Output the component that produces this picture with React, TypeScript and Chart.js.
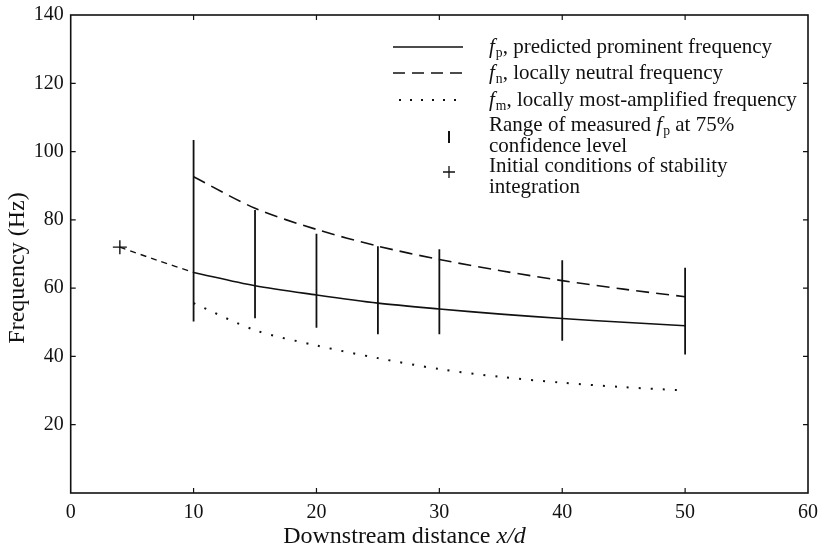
import React, { useEffect, useRef } from "react";
import { Chart, registerables } from "chart.js";
Chart.register(...registerables);

const FONT = '"Liberation Serif", "Times New Roman", serif';

const xMin = 0;
const xMax = 60;
const yMin = 0;
const yMax = 140;
const xTickValues = [0, 10, 20, 30, 40, 50, 60];
const yTickValues = [20, 40, 60, 80, 100, 120, 140];

// f_p predicted prominent frequency (solid)
const fpX = [10, 15, 20, 25, 30, 35, 40, 45, 50];
const fpY = [64.6, 60.7, 58.0, 55.6, 53.9, 52.4, 51.1, 50.0, 49.0];
// f_p before first measurement station (short dashes from initial condition)
const fpInitX = [4, 7, 10];
const fpInitY = [72, 68.2, 64.6];
// f_n locally neutral frequency (long dashes)
const fnX = [10, 15, 20, 25, 30, 35, 40, 45, 50];
const fnY = [92.6, 83.4, 77.2, 72.3, 68.4, 65.1, 62.2, 59.7, 57.5];
// f_m locally most-amplified frequency (dotted)
const fmX = [10, 15, 20, 25, 30, 35, 40, 45, 49.5];
const fmY = [55.6, 47.7, 43.2, 39.5, 36.3, 34.0, 32.3, 31.0, 30.1];
// range of measured f_p at 75% confidence level
const rangeX = [10, 15, 20, 25, 30, 40, 50];
const rangeLow = [50.2, 51.2, 48.4, 46.5, 46.5, 44.6, 40.6];
const rangeHigh = [103.4, 82.9, 75.9, 72.3, 71.4, 68.2, 66.0];
// initial conditions of stability integration
const initX = [4];
const initY = [72];

const yTitle = "Frequency (Hz)";

const legendRows = [
  { sym: "solid", parts: [{ t: "f", i: true }, { t: "p", sub: true }, { t: ", predicted prominent frequency" }] },
  { sym: "dash", parts: [{ t: "f", i: true }, { t: "n", sub: true }, { t: ", locally neutral frequency" }] },
  { sym: "dot", parts: [{ t: "f", i: true }, { t: "m", sub: true }, { t: ", locally most-amplified frequency" }] },
  {
    sym: "bar",
    parts: [{ t: "Range of measured " }, { t: "f", i: true }, { t: "p", sub: true }, { t: " at 75%" }],
    parts2: [{ t: "confidence level" }],
  },
  {
    sym: "plus",
    parts: [{ t: "Initial conditions of stability" }],
    parts2: [{ t: "integration" }],
  },
];

const toPts = (xs: number[], ys: number[]) => xs.map((x, i) => ({ x, y: ys[i] }));

function drawRich(ctx: CanvasRenderingContext2D, parts: any[], x: number, y: number, size: number) {
  let cx = x;
  for (const p of parts) {
    const fs = p.sub ? size * 0.65 : size;
    ctx.font = `${p.i ? "italic " : ""}${fs}px ${FONT}`;
    ctx.fillText(p.t, cx, p.sub ? y + size * 0.3 : y);
    cx += ctx.measureText(p.t).width + (p.i ? 1 : 0);
  }
  return cx - x;
}

function richWidth(ctx: CanvasRenderingContext2D, parts: any[], size: number) {
  let w = 0;
  for (const p of parts) {
    const fs = p.sub ? size * 0.65 : size;
    ctx.font = `${p.i ? "italic " : ""}${fs}px ${FONT}`;
    w += ctx.measureText(p.t).width + (p.i ? 1 : 0);
  }
  return w;
}

const framePlugin = {
  id: "frameAndLegend",
  afterDatasetsDraw(chart: any) {
    const { ctx, chartArea: a, scales } = chart;
    const xs = scales.x;
    const ys = scales.y;
    ctx.save();
    ctx.strokeStyle = "#111";
    ctx.fillStyle = "#111";
    ctx.lineWidth = 1.6;
    ctx.setLineDash([]);
    ctx.strokeRect(a.left, a.top, a.right - a.left, a.bottom - a.top);
    const tl = 5;
    ctx.lineWidth = 1.2;
    for (const v of xTickValues) {
      const px = xs.getPixelForValue(v);
      if (px <= a.left + 1 || px >= a.right - 1) continue;
      ctx.beginPath();
      ctx.moveTo(px, a.bottom);
      ctx.lineTo(px, a.bottom - tl);
      ctx.moveTo(px, a.top);
      ctx.lineTo(px, a.top + tl);
      ctx.stroke();
    }
    for (const v of yTickValues) {
      const py = ys.getPixelForValue(v);
      if (py <= a.top + 1 || py >= a.bottom - 1) continue;
      ctx.beginPath();
      ctx.moveTo(a.left, py);
      ctx.lineTo(a.left + tl, py);
      ctx.moveTo(a.right, py);
      ctx.lineTo(a.right - tl, py);
      ctx.stroke();
    }

    // legend
    const size = 21;
    const sx0 = 393;
    const sx1 = 463;
    const tx = 489;
    const rowY = [47, 73, 100, 125, 166];
    const row2Y = [0, 0, 0, 146, 187];
    ctx.textBaseline = "middle";
    ctx.textAlign = "left";
    legendRows.forEach((r, i) => {
      const y = rowY[i];
      ctx.lineWidth = 1.5;
      if (r.sym === "solid" || r.sym === "dash" || r.sym === "dot") {
        if (r.sym === "dash") ctx.setLineDash([12, 7]);
        else if (r.sym === "dot") ctx.setLineDash([2, 9]);
        else ctx.setLineDash([]);
        if (r.sym === "dot") ctx.lineWidth = 2;
        ctx.beginPath();
        ctx.moveTo(r.sym === "dot" ? sx0 + 6 : sx0, y);
        ctx.lineTo(sx1, y);
        ctx.stroke();
        ctx.setLineDash([]);
      } else if (r.sym === "bar") {
        ctx.lineWidth = 2;
        ctx.beginPath();
        ctx.moveTo(449, 131);
        ctx.lineTo(449, 143);
        ctx.stroke();
      } else if (r.sym === "plus") {
        ctx.lineWidth = 1.3;
        ctx.beginPath();
        ctx.moveTo(443, 172);
        ctx.lineTo(455, 172);
        ctx.moveTo(449, 166);
        ctx.lineTo(449, 178);
        ctx.stroke();
      }
      drawRich(ctx, r.parts, tx, y, size);
      if ((r as any).parts2) drawRich(ctx, (r as any).parts2, tx, row2Y[i], size);
    });

    // axis titles
    const tsize = 24;
    const title = [{ t: "Downstream distance " }, { t: "x/d", i: true }];
    const w = richWidth(ctx, title, tsize);
    drawRich(ctx, title, 405 - w / 2, 537, tsize);

    ctx.save();
    ctx.translate(18, 268);
    ctx.rotate(-Math.PI / 2);
    ctx.textAlign = "center";
    ctx.textBaseline = "middle";
    ctx.font = `${tsize}px ${FONT}`;
    ctx.fillText(yTitle, 0, 0);
    ctx.restore();

    ctx.restore();
  },
};

export default function App() {
  const ref = useRef<HTMLCanvasElement | null>(null);
  useEffect(() => {
    if (!ref.current) return;
    const rangeData: any[] = [];
    rangeX.forEach((x, i) => {
      rangeData.push({ x, y: rangeLow[i] });
      rangeData.push({ x, y: rangeHigh[i] });
      rangeData.push({ x, y: null });
    });
    const black = "#111";
    const chart = new Chart(ref.current, {
      type: "line",
      data: {
        datasets: [
          { label: "fp", data: toPts(fpX, fpY), borderColor: black, borderWidth: 1.6, pointRadius: 0, tension: 0.3 },
          { label: "fp init", data: toPts(fpInitX, fpInitY), borderColor: black, borderWidth: 1.4, borderDash: [6, 5], pointRadius: 0, tension: 0.3 },
          { label: "fn", data: toPts(fnX, fnY), borderColor: black, borderWidth: 1.6, borderDash: [13, 7], pointRadius: 0, tension: 0.3 },
          { label: "fm", data: toPts(fmX, fmY), borderColor: black, borderWidth: 2, borderDash: [2, 10], pointRadius: 0, tension: 0.3 },
          { label: "range", data: rangeData, borderColor: black, borderWidth: 1.8, pointRadius: 0, spanGaps: false, tension: 0 },
          {
            label: "init",
            data: toPts(initX, initY),
            showLine: false,
            pointStyle: "cross",
            pointRadius: 7,
            borderColor: black,
            borderWidth: 1.4,
          },
        ],
      },
      options: {
        responsive: false,
        animation: false,
        devicePixelRatio: 1,
        layout: { padding: { top: 15, right: 13, left: 0, bottom: 0 } },
        plugins: { legend: { display: false }, tooltip: { enabled: false } },
        scales: {
          x: {
            type: "linear",
            min: xMin,
            max: xMax,
            afterBuildTicks: (s: any) => {
              s.ticks = xTickValues.map((v) => ({ value: v }));
            },
            afterFit: (s: any) => {
              s.height = 58;
              s.paddingLeft = 0;
              s.paddingRight = 0;
            },
            grid: { display: false, drawTicks: false },
            border: { display: false },
            ticks: { color: black, font: { family: FONT, size: 20 }, padding: 8, maxRotation: 0 },
          },
          y: {
            type: "linear",
            min: yMin,
            max: yMax,
            afterBuildTicks: (s: any) => {
              s.ticks = yTickValues.map((v) => ({ value: v }));
            },
            afterFit: (s: any) => {
              s.width = 70.7;
              s.paddingTop = 0;
              s.paddingBottom = 0;
            },
            grid: { display: false, drawTicks: false },
            border: { display: false },
            ticks: { color: black, font: { family: FONT, size: 20 }, padding: 7 },
          },
        },
      },
      plugins: [framePlugin],
    } as any);
    return () => chart.destroy();
  }, []);
  return (
    <div style={{ position: "fixed", left: 0, top: 0, width: 821, height: 551, background: "#fff" }}>
      <canvas ref={ref} width={821} height={551} style={{ width: 821, height: 551 }} />
    </div>
  );
}
